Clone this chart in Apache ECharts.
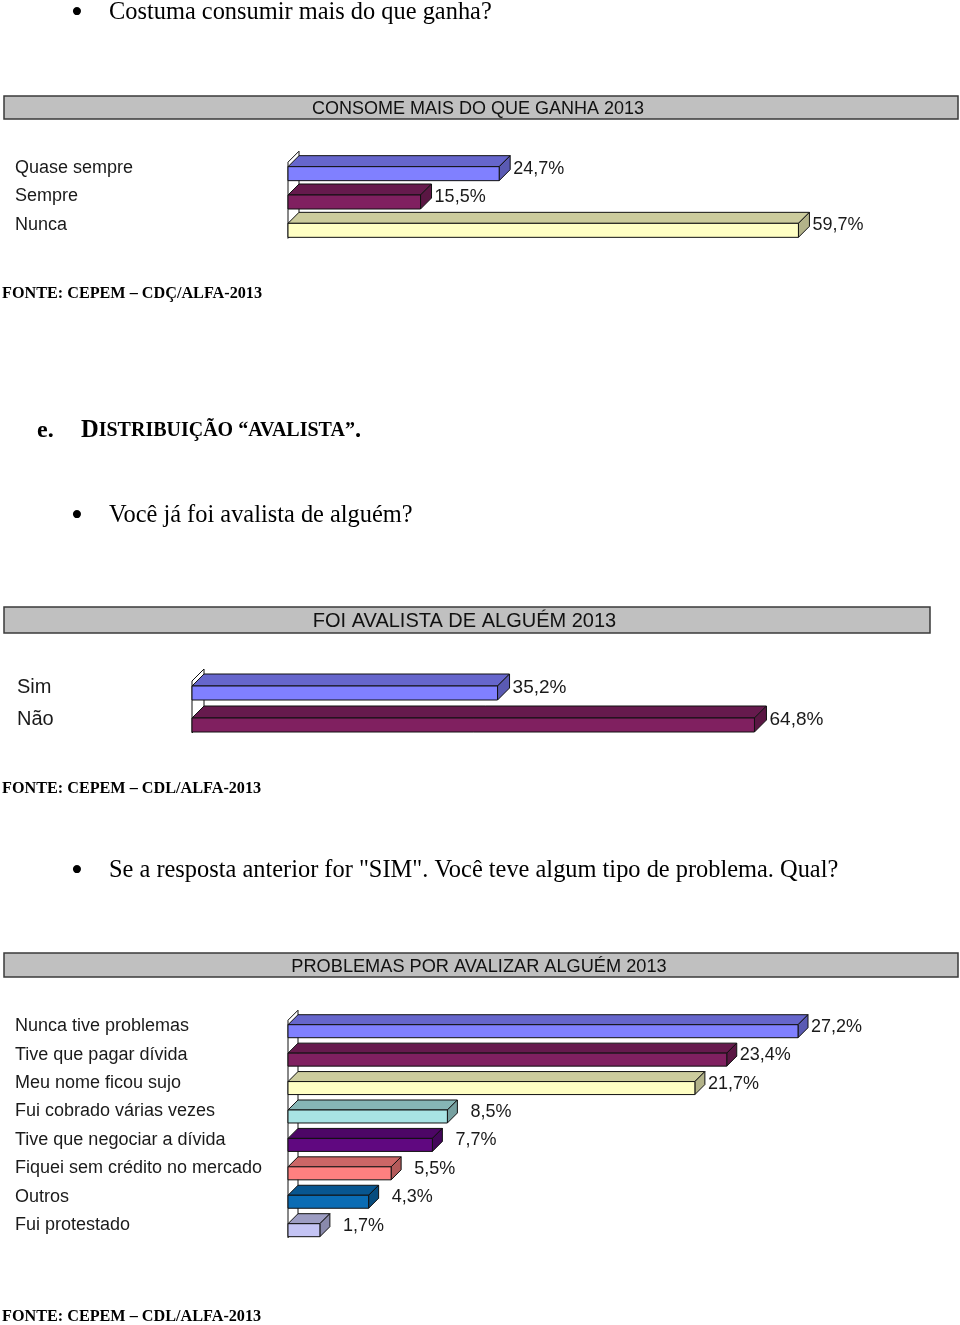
<!DOCTYPE html>
<html><head><meta charset="utf-8">
<script src="https://cdn.jsdelivr.net/npm/echarts@6/dist/echarts.min.js"></script>
<style>html,body{margin:0;padding:0;background:#fff}#c{width:960px;height:1325px}</style>
</head><body><div id="c"></div>
<script>
// ---- data ----
const cat1 = ['Quase sempre', 'Sempre', 'Nunca'];
const val1 = [24.7, 15.5, 59.7];
const cat2 = ['Sim', 'Não'];
const val2 = [35.2, 64.8];
const cat3 = ['Nunca tive problemas', 'Tive que pagar dívida', 'Meu nome ficou sujo', 'Fui cobrado várias vezes',
  'Tive que negociar a dívida', 'Fiquei sem crédito no mercado', 'Outros', 'Fui protestado'];
const val3 = [27.2, 23.4, 21.7, 8.5, 7.7, 5.5, 4.3, 1.7];
const title1 = 'CONSOME MAIS DO QUE GANHA 2013';
const title2 = 'FOI AVALISTA DE ALGUÉM 2013';
const title3 = 'PROBLEMAS POR AVALIZAR ALGUÉM 2013';

// ---- styles ----
const BLUE = '#8080FF', PLUM = '#802060', CREAM = '#FFFFC4', AQUA = '#A8E4E4', VIOLET = '#600880',
      CORAL = '#FF8080', OCEAN = '#0A6CB4', LAV = '#C4C4F4';
const colors1 = [BLUE, PLUM, CREAM];
const colors2 = [BLUE, PLUM];
const colors3 = [BLUE, PLUM, CREAM, AQUA, VIOLET, CORAL, OCEAN, LAV];
const SANS = '"Liberation Sans", Arial, sans-serif';
const SERIF = '"Liberation Serif", "Times New Roman", serif';

function shade(hex, f) {
  const n = parseInt(hex.slice(1), 16);
  const r = Math.round(((n >> 16) & 255) * f), g = Math.round(((n >> 8) & 255) * f), b = Math.round((n & 255) * f);
  return 'rgb(' + r + ',' + g + ',' + b + ')';
}
function fmt(v) { return v.toFixed(1).replace('.', ',') + '%'; }

function barRenderer(colors, h, d, fs) {
  return function (params, api) {
    const v = api.value(0), c = api.value(1);
    const p0 = api.coord([0, c]), p1 = api.coord([v, c]);
    const x0 = p0[0], x1 = p1[0], cy = p0[1];
    const yb = cy + (h + d) / 2, yf = yb - h;
    const col = colors[params.dataIndex];
    return {
      type: 'group', children: [
        { type: 'polygon', shape: { points: [[x0, yf], [x0 + d, yf - d], [x1 + d, yf - d], [x1, yf]] },
          style: { fill: shade(col, 0.8), stroke: '#111', lineWidth: 1 } },
        { type: 'polygon', shape: { points: [[x1, yf], [x1 + d, yf - d], [x1 + d, yb - d], [x1, yb]] },
          style: { fill: shade(col, 0.7), stroke: '#111', lineWidth: 1 } },
        { type: 'rect', shape: { x: x0, y: yf, width: x1 - x0, height: h },
          style: { fill: col, stroke: '#111', lineWidth: 1 } },
        { type: 'text', style: { x: x1 + d + 3 + fs * 2.84, y: cy + 0.5, text: fmt(v), fill: '#1a1a1a',
          font: fs + 'px ' + SANS, align: 'right', verticalAlign: 'middle' } }
      ]
    };
  };
}
function wallRenderer(n, h, d) {
  return function (params, api) {
    const pT = api.coord([0, 0]), pB = api.coord([0, n - 1]);
    const x0 = pT[0];
    const yTop = pT[1] - 6, yBot = pB[1] + (h + d) / 2 + 1;
    return { type: 'polygon', shape: { points: [[x0, yBot], [x0, yTop], [x0 + d, yTop - d], [x0 + d, yBot - d]] },
      style: { fill: '#fff', stroke: '#111', lineWidth: 1 } };
  };
}

function catAxis(idx, cats, margin, fs) {
  return { type: 'category', gridIndex: idx, data: cats, inverse: true,
    axisLine: { show: false }, axisTick: { show: false }, splitLine: { show: false },
    axisLabel: { align: 'left', margin: margin, fontFamily: SANS, fontSize: fs, color: '#1a1a1a' } };
}
function valAxis(idx, max) {
  return { type: 'value', gridIndex: idx, min: 0, max: max, show: false, splitLine: { show: false } };
}

function titleBox(x, y, w, hgt, text, fs, cx) {
  return { type: 'group', children: [
    { type: 'rect', shape: { x: x, y: y, width: w, height: hgt }, style: { fill: '#C0C0C0', stroke: '#3a3a3a', lineWidth: 1.5 } },
    { type: 'text', x: cx, y: y + hgt / 2 + 1.5, style: { text: text, font: fs + 'px ' + SANS, fill: '#111', align: 'center', verticalAlign: 'middle' } }
  ] };
}
function txt(x, y, text, font, align) {
  return { type: 'text', x: x, y: y, style: { text: text, font: font, fill: '#000', verticalAlign: 'middle', align: align || 'left' } };
}

const H1 = 14, D1 = 11, H3 = 13, D3 = 10;
const BODY = '24.4px ' + SERIF, BULLET = '34px ' + SERIF, SRC = 'bold 16.2px ' + SERIF;

const option = {
  animation: false,
  backgroundColor: '#fff',
  grid: [
    { left: 288, top: 154, width: 8.55 * 70, height: 85 },
    { left: 192, top: 671, width: 8.68 * 80, height: 64 },
    { left: 288, top: 1012, width: 18.75 * 35, height: 227.4 }
  ],
  xAxis: [valAxis(0, 70), valAxis(1, 80), valAxis(2, 35)],
  yAxis: [catAxis(0, cat1, 273, 18), catAxis(1, cat2, 175, 20), catAxis(2, cat3, 273, 18)],
  series: [
    { type: 'custom', xAxisIndex: 0, yAxisIndex: 0, z: 1, data: [[0, 0]], renderItem: wallRenderer(cat1.length, H1, D1), silent: true },
    { type: 'custom', xAxisIndex: 0, yAxisIndex: 0, z: 2, data: val1.map((v, i) => [v, i]), encode: { x: 0, y: 1 }, renderItem: barRenderer(colors1, H1, D1, 18) },
    { type: 'custom', xAxisIndex: 1, yAxisIndex: 1, z: 1, data: [[0, 0]], renderItem: wallRenderer(cat2.length, H1, 12), silent: true },
    { type: 'custom', xAxisIndex: 1, yAxisIndex: 1, z: 2, data: val2.map((v, i) => [v, i]), encode: { x: 0, y: 1 }, renderItem: barRenderer(colors2, H1, 12, 19) },
    { type: 'custom', xAxisIndex: 2, yAxisIndex: 2, z: 1, data: [[0, 0]], renderItem: wallRenderer(cat3.length, H3, D3), silent: true },
    { type: 'custom', xAxisIndex: 2, yAxisIndex: 2, z: 2, data: val3.map((v, i) => [v, i]), encode: { x: 0, y: 1 }, renderItem: barRenderer(colors3, H3, D3, 18) }
  ],
  graphic: [
    txt(77, 14, '•', BULLET, 'center'),
    txt(109, 13, 'Costuma consumir mais do que ganha?', BODY),
    titleBox(4, 96, 954, 23, title1, 18, 478),
    txt(2, 293.5, 'FONTE: CEPEM – CDÇ/ALFA-2013', SRC),
    { type: 'text', x: 37, y: 431, style: { text: '{b|e.}', rich: { b: { font: 'bold 24px ' + SERIF, fill: '#000' } }, verticalAlign: 'middle' } },
    { type: 'text', x: 81, y: 431, style: {
        text: '{big|D}{sm|ISTRIBUIÇÃO }{sm|“AVALISTA”}{big|.}',
        rich: { big: { font: 'bold 24.5px ' + SERIF, fill: '#000' }, sm: { font: 'bold 20px ' + SERIF, fill: '#000' } },
        verticalAlign: 'middle' } },
    txt(77, 517, '•', BULLET, 'center'),
    txt(109, 516, 'Você já foi avalista de alguém?', BODY),
    titleBox(4, 607, 926, 26, title2, 20, 464.5),
    txt(2, 788.5, 'FONTE: CEPEM – CDL/ALFA-2013', SRC),
    txt(77, 872, '•', BULLET, 'center'),
    txt(109, 871, 'Se a resposta anterior for "SIM". Você teve algum tipo de problema. Qual?', BODY),
    titleBox(4, 953, 954, 24, title3, 18.2, 479),
    txt(2, 1316.5, 'FONTE: CEPEM – CDL/ALFA-2013', SRC)
  ]
};
const chart = echarts.init(document.getElementById('c'), null, { renderer: 'canvas', width: 960, height: 1325 });
chart.setOption(option);
</script></body></html>
